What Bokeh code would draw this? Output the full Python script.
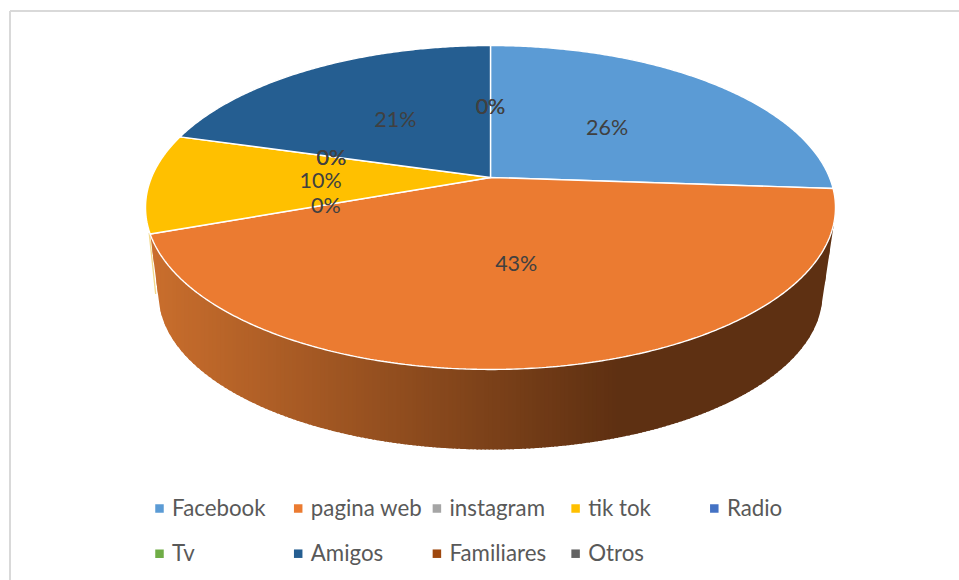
import numpy as np
from bokeh.core.properties import value
from bokeh.embed import file_html
from bokeh.models import Range1d
from bokeh.plotting import figure
from bokeh.resources import INLINE

# Share of respondents per information source
categories = ["Facebook", "pagina web", "instagram", "tik tok", "Radio",
              "Tv", "Amigos", "Familiares", "Otros"]
shares = [26.1, 43.4, 0.0, 9.9, 0.0, 0.0, 20.6, 0.0, 0.0]
colors = ["#5B9BD5", "#EB7B31", "#A5A5A5", "#FFC000", "#4472C4",
          "#70AD47", "#255E91", "#9E480E", "#636363"]

FONT = "Lato"
W, H = 959, 580


class DiscPlane:
    """Projects points of a flat unit disc onto the screen with perspective."""

    def __init__(self, apex_y, half_w, half_h, k):
        self.apex_y, self.half_w, self.half_h, self.k = apex_y, half_w, half_h, k

    def at(self, turn, radius=1.0):
        # turn: fraction of a full circle, clockwise from twelve o'clock
        a = 2 * np.pi * np.asarray(turn)
        u, v = radius * np.sin(a), radius * np.cos(a)
        w = 1 + self.k * v
        return 490.0 + self.half_w * u / w, self.apex_y - self.half_h * v / w


top = DiscPlane(177.0, 339.0, 156.4, 0.1852)
base = DiscPlane(267.7, 327.0, 150.5, 0.17)

p = figure(width=W, height=H, x_range=Range1d(0, W), y_range=Range1d(H, 0),
           output_backend="svg", toolbar_location=None, min_border=0,
           background_fill_color="white", border_fill_color="white")
p.axis.visible = False
p.grid.visible = False
p.outline_line_color = None

# Chart frame
p.line([9.5, 9.5], [H, 10.5], line_color="#D9D9D9", line_width=2)
p.line([9.5, W], [10.5, 10.5], line_color="#D9D9D9", line_width=2)

total = sum(shares)
edges = np.concatenate([[0.0], np.cumsum(shares) / total])


def side_shade(x):
    # Horizontal light falloff on the rim of the disc
    t = np.clip((x - 155.0) / (620.0 - 155.0), 0, 1)
    left, right = np.array([201, 110, 45]), np.array([94, 48, 18])
    r, g, b = (left + (right - left) * t).astype(int)
    return f"#{r:02x}{g:02x}{b:02x}"


def lower_hull(xs, ys):
    # Lower screen boundary (largest y) of a point cloud, ordered by x
    chain = []
    for pt in sorted(zip(xs, ys)):
        while len(chain) >= 2:
            (ax, ay), (bx, by) = chain[-2], chain[-1]
            if (bx - ax) * (pt[1] - ay) - (by - ay) * (pt[0] - ax) >= 0:
                chain.pop()
            else:
                break
        chain.append(pt)
    return np.array(chain).T


# Rim of the disc: the front edge of the top face and the hull that joins it
# to the base, filled with narrow vertical bands painted left to right; each
# band runs a little under the next so no gap shows between them
front = np.linspace(0.2, edges[3], 700)
top_x, top_y = top.at(front)
base_x, base_y = base.at(np.linspace(0.2, 0.8, 700))
hull_x, hull_y = lower_hull(np.r_[top_x, base_x], np.r_[top_y, base_y])
order = np.argsort(top_x)
rim_left, rim_right = top_x.min(), top_x.max()

stops = np.r_[rim_left, np.arange(np.ceil(rim_left / 4) * 4, rim_right, 4.0), rim_right]
band_xs, band_ys, band_cols = [], [], []
for x0, x1 in zip(stops[:-1], stops[1:]):
    xx = np.linspace(x0, min(x1 + 1.5, rim_right), 6)
    up = np.interp(xx, top_x[order], top_y[order])
    low = np.interp(xx, hull_x, hull_y)
    band_xs.append(np.r_[xx, xx[::-1]].tolist())
    band_ys.append(np.r_[up, low[::-1]].tolist())
    band_cols.append(side_shade(0.5 * (x0 + x1)))
p.patches(band_xs, band_ys, fill_color=band_cols, line_color=None)

# Sliver of the neighbouring slice's rim on the far left
sx0, sy0 = top.at(edges[3])
p.line([sx0 - 1, sx0 + 5.5], [sy0 - 1, sy0 + 60], line_color="#F3D98A", line_width=1.3)

# Top face of the disc
for start, end, col in zip(edges[:-1], edges[1:], colors):
    if end <= start:
        continue
    arc = np.linspace(start, end, max(3, int((end - start) * 720)))
    ax, ay = top.at(arc)
    cx, cy = top.at(0.0, 0.0)
    p.patch(np.r_[cx, ax], np.r_[cy, ay], fill_color=col, line_color="white", line_width=1.4)

# Percentage labels sit halfway along each slice's middle radius
mids = 0.5 * (edges[:-1] + edges[1:])
lx, ly = top.at(mids, 0.5)
p.text(lx, ly, text=[f"{round(s)}%" for s in shares], text_font=value(FONT),
       text_font_size="21.5px", text_color="#404040",
       text_align="center", text_baseline="middle")

# Legend, two rows of five and four entries
n_cols = 5
for i, (name, col) in enumerate(zip(categories, colors)):
    col_i, row_i = i % n_cols, i // n_cols
    sx = 159.0 + 138.7 * col_i
    sy = 508.0 + 45.2 * row_i
    p.rect([sx], [sy], width=8.5, height=8.5, fill_color=col, line_color=None)
    p.text([sx + 12.6], [sy - 0.8], text=[name], text_font=value(FONT),
           text_font_size="22.3px", text_color="#595959",
           text_align="left", text_baseline="middle")

open("out.html", "w").write(file_html(p, INLINE))
